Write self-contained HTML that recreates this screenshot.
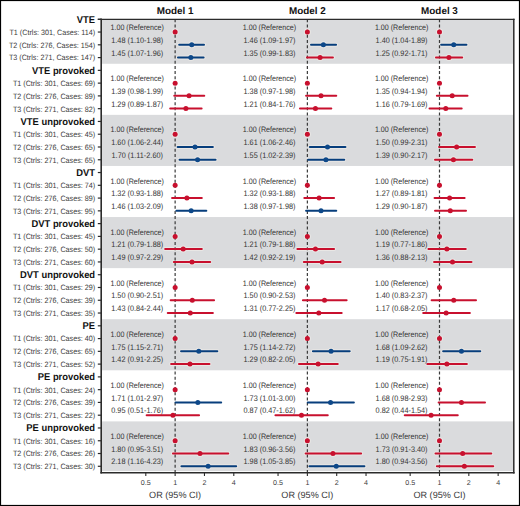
<!DOCTYPE html>
<html><head><meta charset="utf-8"><title>Forest plot</title>
<style>
html,body{margin:0;padding:0;background:#fff;}
body{width:520px;height:506px;overflow:hidden;font-family:"Liberation Sans",sans-serif;}
svg{display:block;text-rendering:geometricPrecision;}
</style></head><body>
<svg width="520" height="506" viewBox="0 0 520 506">
<rect x="101.9" y="19.27" width="411.1" height="44.5" fill="#dadbdd"/>
<rect x="101.9" y="114.86" width="411.1" height="51.09" fill="#dadbdd"/>
<rect x="101.9" y="217.04" width="411.1" height="51.09" fill="#dadbdd"/>
<rect x="101.9" y="319.21" width="411.1" height="51.09" fill="#dadbdd"/>
<rect x="101.9" y="421.39" width="411.1" height="49.71" fill="#dadbdd"/>
<g><circle cx="175.13" cy="32.04" r="3.5" fill="#e9e7e5"/><line x1="179.16" y1="44.76" x2="204.03" y2="44.76" stroke="#e9e7e5" stroke-width="4" stroke-linecap="round"/><circle cx="191.72" cy="44.76" r="3.5" fill="#e9e7e5"/><line x1="177.99" y1="57.54" x2="203.61" y2="57.54" stroke="#e9e7e5" stroke-width="4" stroke-linecap="round"/><circle cx="190.85" cy="57.54" r="3.5" fill="#e9e7e5"/><circle cx="175.13" cy="134.22" r="3.5" fill="#e9e7e5"/><line x1="177.6" y1="146.94" x2="212.87" y2="146.94" stroke="#e9e7e5" stroke-width="4" stroke-linecap="round"/><circle cx="195.02" cy="146.94" r="3.5" fill="#e9e7e5"/><line x1="179.55" y1="159.71" x2="215.56" y2="159.71" stroke="#e9e7e5" stroke-width="4" stroke-linecap="round"/><circle cx="197.58" cy="159.71" r="3.5" fill="#e9e7e5"/><circle cx="175.13" cy="236.39" r="3.5" fill="#e9e7e5"/><line x1="165.16" y1="249.12" x2="201.84" y2="249.12" stroke="#e9e7e5" stroke-width="4" stroke-linecap="round"/><circle cx="183.2" cy="249.12" r="3.5" fill="#e9e7e5"/><line x1="173.84" y1="261.89" x2="210.19" y2="261.89" stroke="#e9e7e5" stroke-width="4" stroke-linecap="round"/><circle cx="192" cy="261.89" r="3.5" fill="#e9e7e5"/><circle cx="175.13" cy="338.57" r="3.5" fill="#e9e7e5"/><line x1="181.04" y1="351.29" x2="217.32" y2="351.29" stroke="#e9e7e5" stroke-width="4" stroke-linecap="round"/><circle cx="198.81" cy="351.29" r="3.5" fill="#e9e7e5"/><line x1="171.14" y1="364.06" x2="209.44" y2="364.06" stroke="#e9e7e5" stroke-width="4" stroke-linecap="round"/><circle cx="189.97" cy="364.06" r="3.5" fill="#e9e7e5"/><circle cx="175.13" cy="440.75" r="3.5" fill="#e9e7e5"/><line x1="172.96" y1="453.47" x2="228.26" y2="453.47" stroke="#e9e7e5" stroke-width="4" stroke-linecap="round"/><circle cx="200" cy="453.47" r="3.5" fill="#e9e7e5"/><line x1="181.41" y1="466.24" x2="236.16" y2="466.24" stroke="#e9e7e5" stroke-width="4" stroke-linecap="round"/><circle cx="208.11" cy="466.24" r="3.5" fill="#e9e7e5"/><circle cx="307.37" cy="32.04" r="3.5" fill="#e9e7e5"/><line x1="311.02" y1="44.76" x2="336.06" y2="44.76" stroke="#e9e7e5" stroke-width="4" stroke-linecap="round"/><circle cx="323.38" cy="44.76" r="3.5" fill="#e9e7e5"/><line x1="306.94" y1="57.54" x2="332.94" y2="57.54" stroke="#e9e7e5" stroke-width="4" stroke-linecap="round"/><circle cx="320.07" cy="57.54" r="3.5" fill="#e9e7e5"/><circle cx="307.37" cy="134.22" r="3.5" fill="#e9e7e5"/><line x1="309.84" y1="146.94" x2="345.46" y2="146.94" stroke="#e9e7e5" stroke-width="4" stroke-linecap="round"/><circle cx="327.52" cy="146.94" r="3.5" fill="#e9e7e5"/><line x1="308.21" y1="159.71" x2="344.24" y2="159.71" stroke="#e9e7e5" stroke-width="4" stroke-linecap="round"/><circle cx="325.91" cy="159.71" r="3.5" fill="#e9e7e5"/><circle cx="307.37" cy="236.39" r="3.5" fill="#e9e7e5"/><line x1="297.4" y1="249.12" x2="334.08" y2="249.12" stroke="#e9e7e5" stroke-width="4" stroke-linecap="round"/><circle cx="315.44" cy="249.12" r="3.5" fill="#e9e7e5"/><line x1="303.84" y1="261.89" x2="340.54" y2="261.89" stroke="#e9e7e5" stroke-width="4" stroke-linecap="round"/><circle cx="322.21" cy="261.89" r="3.5" fill="#e9e7e5"/><circle cx="307.37" cy="338.57" r="3.5" fill="#e9e7e5"/><line x1="312.91" y1="351.29" x2="349.71" y2="351.29" stroke="#e9e7e5" stroke-width="4" stroke-linecap="round"/><circle cx="331.05" cy="351.29" r="3.5" fill="#e9e7e5"/><line x1="298.97" y1="364.06" x2="337.74" y2="364.06" stroke="#e9e7e5" stroke-width="4" stroke-linecap="round"/><circle cx="318.14" cy="364.06" r="3.5" fill="#e9e7e5"/><circle cx="307.37" cy="440.75" r="3.5" fill="#e9e7e5"/><line x1="305.64" y1="453.47" x2="361.1" y2="453.47" stroke="#e9e7e5" stroke-width="4" stroke-linecap="round"/><circle cx="332.94" cy="453.47" r="3.5" fill="#e9e7e5"/><line x1="309.43" y1="466.24" x2="364.41" y2="466.24" stroke="#e9e7e5" stroke-width="4" stroke-linecap="round"/><circle cx="336.27" cy="466.24" r="3.5" fill="#e9e7e5"/><circle cx="439.49" cy="32.04" r="3.5" fill="#e9e7e5"/><line x1="441.15" y1="44.76" x2="466.43" y2="44.76" stroke="#e9e7e5" stroke-width="4" stroke-linecap="round"/><circle cx="453.73" cy="44.76" r="3.5" fill="#e9e7e5"/><line x1="435.96" y1="57.54" x2="462.19" y2="57.54" stroke="#e9e7e5" stroke-width="4" stroke-linecap="round"/><circle cx="448.93" cy="57.54" r="3.5" fill="#e9e7e5"/><circle cx="439.49" cy="134.22" r="3.5" fill="#e9e7e5"/><line x1="439.06" y1="146.94" x2="474.92" y2="146.94" stroke="#e9e7e5" stroke-width="4" stroke-linecap="round"/><circle cx="456.65" cy="146.94" r="3.5" fill="#e9e7e5"/><line x1="435.03" y1="159.71" x2="472.27" y2="159.71" stroke="#e9e7e5" stroke-width="4" stroke-linecap="round"/><circle cx="453.42" cy="159.71" r="3.5" fill="#e9e7e5"/><circle cx="439.49" cy="236.39" r="3.5" fill="#e9e7e5"/><line x1="428.43" y1="249.12" x2="465.75" y2="249.12" stroke="#e9e7e5" stroke-width="4" stroke-linecap="round"/><circle cx="446.85" cy="249.12" r="3.5" fill="#e9e7e5"/><line x1="434.08" y1="261.89" x2="471.48" y2="261.89" stroke="#e9e7e5" stroke-width="4" stroke-linecap="round"/><circle cx="452.5" cy="261.89" r="3.5" fill="#e9e7e5"/><circle cx="439.49" cy="338.57" r="3.5" fill="#e9e7e5"/><line x1="443.14" y1="351.29" x2="480.25" y2="351.29" stroke="#e9e7e5" stroke-width="4" stroke-linecap="round"/><circle cx="461.44" cy="351.29" r="3.5" fill="#e9e7e5"/><line x1="427.32" y1="364.06" x2="466.87" y2="364.06" stroke="#e9e7e5" stroke-width="4" stroke-linecap="round"/><circle cx="446.85" cy="364.06" r="3.5" fill="#e9e7e5"/><circle cx="439.49" cy="440.75" r="3.5" fill="#e9e7e5"/><line x1="435.5" y1="453.47" x2="491.27" y2="453.47" stroke="#e9e7e5" stroke-width="4" stroke-linecap="round"/><circle cx="462.68" cy="453.47" r="3.5" fill="#e9e7e5"/><line x1="436.87" y1="466.24" x2="493.22" y2="466.24" stroke="#e9e7e5" stroke-width="4" stroke-linecap="round"/><circle cx="464.36" cy="466.24" r="3.5" fill="#e9e7e5"/></g>
<line x1="175.13" y1="19.27" x2="175.13" y2="472.05" stroke="#3a3a3a" stroke-width="1.2" stroke-dasharray="3 2.18"/>
<line x1="307.37" y1="19.27" x2="307.37" y2="472.05" stroke="#3a3a3a" stroke-width="1.2" stroke-dasharray="3 2.18"/>
<line x1="439.49" y1="19.27" x2="439.49" y2="472.05" stroke="#3a3a3a" stroke-width="1.2" stroke-dasharray="3 2.18"/>
<g stroke="#2b2b2b" fill="none">
<line x1="101.2" y1="18.6" x2="101.2" y2="473.6" stroke-width="1.6"/>
<line x1="100.4" y1="472.85" x2="514.6" y2="472.85" stroke-width="1.5"/>
<line x1="97.8" y1="19.37" x2="514.6" y2="19.37" stroke-width="1.3"/>
<line x1="513.8" y1="18.7" x2="513.8" y2="473.6" stroke-width="1.5"/>
<line x1="97.8" y1="19.27" x2="101" y2="19.27" stroke-width="1.2"/>
<line x1="97.8" y1="32.04" x2="101" y2="32.04" stroke-width="1.2"/>
<line x1="97.8" y1="44.81" x2="101" y2="44.81" stroke-width="1.2"/>
<line x1="97.8" y1="57.59" x2="101" y2="57.59" stroke-width="1.2"/>
<line x1="97.8" y1="70.36" x2="101" y2="70.36" stroke-width="1.2"/>
<line x1="97.8" y1="83.13" x2="101" y2="83.13" stroke-width="1.2"/>
<line x1="97.8" y1="95.9" x2="101" y2="95.9" stroke-width="1.2"/>
<line x1="97.8" y1="108.67" x2="101" y2="108.67" stroke-width="1.2"/>
<line x1="97.8" y1="121.45" x2="101" y2="121.45" stroke-width="1.2"/>
<line x1="97.8" y1="134.22" x2="101" y2="134.22" stroke-width="1.2"/>
<line x1="97.8" y1="146.99" x2="101" y2="146.99" stroke-width="1.2"/>
<line x1="97.8" y1="159.76" x2="101" y2="159.76" stroke-width="1.2"/>
<line x1="97.8" y1="172.53" x2="101" y2="172.53" stroke-width="1.2"/>
<line x1="97.8" y1="185.31" x2="101" y2="185.31" stroke-width="1.2"/>
<line x1="97.8" y1="198.08" x2="101" y2="198.08" stroke-width="1.2"/>
<line x1="97.8" y1="210.85" x2="101" y2="210.85" stroke-width="1.2"/>
<line x1="97.8" y1="223.62" x2="101" y2="223.62" stroke-width="1.2"/>
<line x1="97.8" y1="236.39" x2="101" y2="236.39" stroke-width="1.2"/>
<line x1="97.8" y1="249.17" x2="101" y2="249.17" stroke-width="1.2"/>
<line x1="97.8" y1="261.94" x2="101" y2="261.94" stroke-width="1.2"/>
<line x1="97.8" y1="274.71" x2="101" y2="274.71" stroke-width="1.2"/>
<line x1="97.8" y1="287.48" x2="101" y2="287.48" stroke-width="1.2"/>
<line x1="97.8" y1="300.25" x2="101" y2="300.25" stroke-width="1.2"/>
<line x1="97.8" y1="313.03" x2="101" y2="313.03" stroke-width="1.2"/>
<line x1="97.8" y1="325.8" x2="101" y2="325.8" stroke-width="1.2"/>
<line x1="97.8" y1="338.57" x2="101" y2="338.57" stroke-width="1.2"/>
<line x1="97.8" y1="351.34" x2="101" y2="351.34" stroke-width="1.2"/>
<line x1="97.8" y1="364.11" x2="101" y2="364.11" stroke-width="1.2"/>
<line x1="97.8" y1="376.89" x2="101" y2="376.89" stroke-width="1.2"/>
<line x1="97.8" y1="389.66" x2="101" y2="389.66" stroke-width="1.2"/>
<line x1="97.8" y1="402.43" x2="101" y2="402.43" stroke-width="1.2"/>
<line x1="97.8" y1="415.2" x2="101" y2="415.2" stroke-width="1.2"/>
<line x1="97.8" y1="427.97" x2="101" y2="427.97" stroke-width="1.2"/>
<line x1="97.8" y1="440.75" x2="101" y2="440.75" stroke-width="1.2"/>
<line x1="97.8" y1="453.52" x2="101" y2="453.52" stroke-width="1.2"/>
<line x1="97.8" y1="466.29" x2="101" y2="466.29" stroke-width="1.2"/>
<line x1="145.8" y1="472.8" x2="145.8" y2="476" stroke-width="1.1"/>
<line x1="175.13" y1="472.8" x2="175.13" y2="476" stroke-width="1.1"/>
<line x1="204.46" y1="472.8" x2="204.46" y2="476" stroke-width="1.1"/>
<line x1="233.79" y1="472.8" x2="233.79" y2="476" stroke-width="1.1"/>
<line x1="278.04" y1="472.8" x2="278.04" y2="476" stroke-width="1.1"/>
<line x1="307.37" y1="472.8" x2="307.37" y2="476" stroke-width="1.1"/>
<line x1="336.7" y1="472.8" x2="336.7" y2="476" stroke-width="1.1"/>
<line x1="366.03" y1="472.8" x2="366.03" y2="476" stroke-width="1.1"/>
<line x1="410.16" y1="472.8" x2="410.16" y2="476" stroke-width="1.1"/>
<line x1="439.49" y1="472.8" x2="439.49" y2="476" stroke-width="1.1"/>
<line x1="468.82" y1="472.8" x2="468.82" y2="476" stroke-width="1.1"/>
<line x1="498.15" y1="472.8" x2="498.15" y2="476" stroke-width="1.1"/>
</g>
<g font-family="Liberation Sans, sans-serif" text-anchor="end">
<text transform="translate(95.1,22.72) scale(1,1.05)" font-size="9.4" font-weight="bold" fill="#111">VTE</text>
<text transform="translate(95.2,34.94) scale(1,1.08)" font-size="7.2" fill="#3a3a3a">T1 (Ctrls: 301, Cases: 114)</text>
<text transform="translate(95.2,47.71) scale(1,1.08)" font-size="7.2" fill="#3a3a3a">T2 (Ctrls: 276, Cases: 154)</text>
<text transform="translate(95.2,60.49) scale(1,1.08)" font-size="7.2" fill="#3a3a3a">T3 (Ctrls: 271, Cases: 147)</text>
<text transform="translate(95.1,73.81) scale(1,1.05)" font-size="9.4" font-weight="bold" fill="#111">VTE provoked</text>
<text transform="translate(95.2,86.03) scale(1,1.08)" font-size="7.2" fill="#3a3a3a">T1 (Ctrls: 301, Cases: 69)</text>
<text transform="translate(95.2,98.8) scale(1,1.08)" font-size="7.2" fill="#3a3a3a">T2 (Ctrls: 276, Cases: 89)</text>
<text transform="translate(95.2,111.57) scale(1,1.08)" font-size="7.2" fill="#3a3a3a">T3 (Ctrls: 271, Cases: 82)</text>
<text transform="translate(95.1,124.9) scale(1,1.05)" font-size="9.4" font-weight="bold" fill="#111">VTE unprovoked</text>
<text transform="translate(95.2,137.12) scale(1,1.08)" font-size="7.2" fill="#3a3a3a">T1 (Ctrls: 301, Cases: 45)</text>
<text transform="translate(95.2,149.89) scale(1,1.08)" font-size="7.2" fill="#3a3a3a">T2 (Ctrls: 276, Cases: 65)</text>
<text transform="translate(95.2,162.66) scale(1,1.08)" font-size="7.2" fill="#3a3a3a">T3 (Ctrls: 271, Cases: 65)</text>
<text transform="translate(95.1,175.98) scale(1,1.05)" font-size="9.4" font-weight="bold" fill="#111">DVT</text>
<text transform="translate(95.2,188.21) scale(1,1.08)" font-size="7.2" fill="#3a3a3a">T1 (Ctrls: 301, Cases: 74)</text>
<text transform="translate(95.2,200.98) scale(1,1.08)" font-size="7.2" fill="#3a3a3a">T2 (Ctrls: 276, Cases: 89)</text>
<text transform="translate(95.2,213.75) scale(1,1.08)" font-size="7.2" fill="#3a3a3a">T3 (Ctrls: 271, Cases: 95)</text>
<text transform="translate(95.1,227.07) scale(1,1.05)" font-size="9.4" font-weight="bold" fill="#111">DVT provoked</text>
<text transform="translate(95.2,239.29) scale(1,1.08)" font-size="7.2" fill="#3a3a3a">T1 (Ctrls: 301, Cases: 45)</text>
<text transform="translate(95.2,252.07) scale(1,1.08)" font-size="7.2" fill="#3a3a3a">T2 (Ctrls: 276, Cases: 50)</text>
<text transform="translate(95.2,264.84) scale(1,1.08)" font-size="7.2" fill="#3a3a3a">T3 (Ctrls: 271, Cases: 60)</text>
<text transform="translate(95.1,278.16) scale(1,1.05)" font-size="9.4" font-weight="bold" fill="#111">DVT unprovoked</text>
<text transform="translate(95.2,290.38) scale(1,1.08)" font-size="7.2" fill="#3a3a3a">T1 (Ctrls: 301, Cases: 29)</text>
<text transform="translate(95.2,303.15) scale(1,1.08)" font-size="7.2" fill="#3a3a3a">T2 (Ctrls: 276, Cases: 39)</text>
<text transform="translate(95.2,315.93) scale(1,1.08)" font-size="7.2" fill="#3a3a3a">T3 (Ctrls: 271, Cases: 35)</text>
<text transform="translate(95.1,329.25) scale(1,1.05)" font-size="9.4" font-weight="bold" fill="#111">PE</text>
<text transform="translate(95.2,341.47) scale(1,1.08)" font-size="7.2" fill="#3a3a3a">T1 (Ctrls: 301, Cases: 40)</text>
<text transform="translate(95.2,354.24) scale(1,1.08)" font-size="7.2" fill="#3a3a3a">T2 (Ctrls: 276, Cases: 65)</text>
<text transform="translate(95.2,367.01) scale(1,1.08)" font-size="7.2" fill="#3a3a3a">T3 (Ctrls: 271, Cases: 52)</text>
<text transform="translate(95.1,380.34) scale(1,1.05)" font-size="9.4" font-weight="bold" fill="#111">PE provoked</text>
<text transform="translate(95.2,392.56) scale(1,1.08)" font-size="7.2" fill="#3a3a3a">T1 (Ctrls: 301, Cases: 24)</text>
<text transform="translate(95.2,405.33) scale(1,1.08)" font-size="7.2" fill="#3a3a3a">T2 (Ctrls: 276, Cases: 39)</text>
<text transform="translate(95.2,418.1) scale(1,1.08)" font-size="7.2" fill="#3a3a3a">T3 (Ctrls: 271, Cases: 22)</text>
<text transform="translate(95.1,431.42) scale(1,1.05)" font-size="9.4" font-weight="bold" fill="#111">PE unprovoked</text>
<text transform="translate(95.2,443.65) scale(1,1.08)" font-size="7.2" fill="#3a3a3a">T1 (Ctrls: 301, Cases: 16)</text>
<text transform="translate(95.2,456.42) scale(1,1.08)" font-size="7.2" fill="#3a3a3a">T2 (Ctrls: 276, Cases: 26)</text>
<text transform="translate(95.2,469.19) scale(1,1.08)" font-size="7.2" fill="#3a3a3a">T3 (Ctrls: 271, Cases: 30)</text>
</g>
<g font-family="Liberation Sans, sans-serif" text-anchor="middle" font-weight="bold" font-size="9.9" fill="#111">
<text x="175.13" y="13.65">Model 1</text>
<text x="307.37" y="13.65">Model 2</text>
<text x="439.49" y="13.65">Model 3</text>
</g>
<g font-family="Liberation Sans, sans-serif" text-anchor="middle" fill="#3a3a3a">
<text x="145.8" y="485.4" font-size="7.1">0.5</text>
<text x="175.13" y="485.4" font-size="7.1">1</text>
<text x="204.46" y="485.4" font-size="7.1">2</text>
<text x="233.79" y="485.4" font-size="7.1">4</text>
<text x="175.13" y="497.9" font-size="9.1">OR (95% CI)</text>
<text x="278.04" y="485.4" font-size="7.1">0.5</text>
<text x="307.37" y="485.4" font-size="7.1">1</text>
<text x="336.7" y="485.4" font-size="7.1">2</text>
<text x="366.03" y="485.4" font-size="7.1">4</text>
<text x="307.37" y="497.9" font-size="9.1">OR (95% CI)</text>
<text x="410.16" y="485.4" font-size="7.1">0.5</text>
<text x="439.49" y="485.4" font-size="7.1">1</text>
<text x="468.82" y="485.4" font-size="7.1">2</text>
<text x="498.15" y="485.4" font-size="7.1">4</text>
<text x="439.49" y="497.9" font-size="9.1">OR (95% CI)</text>
</g>
<g font-family="Liberation Sans, sans-serif" text-anchor="middle" font-size="7.1" fill="#333">
<text transform="translate(137.23,30.24) scale(1,1.1)" font-size="7.12">1.00 (Reference)</text>
<text transform="translate(137.23,43.01) scale(1,1.1)" font-size="7.3">1.48 (1.10-1.98)</text>
<text transform="translate(137.23,55.79) scale(1,1.1)" font-size="7.3">1.45 (1.07-1.96)</text>
<text transform="translate(137.23,81.33) scale(1,1.1)" font-size="7.12">1.00 (Reference)</text>
<text transform="translate(137.23,94.1) scale(1,1.1)" font-size="7.3">1.39 (0.98-1.99)</text>
<text transform="translate(137.23,106.87) scale(1,1.1)" font-size="7.3">1.29 (0.89-1.87)</text>
<text transform="translate(137.23,132.42) scale(1,1.1)" font-size="7.12">1.00 (Reference)</text>
<text transform="translate(137.23,145.19) scale(1,1.1)" font-size="7.3">1.60 (1.06-2.44)</text>
<text transform="translate(137.23,157.96) scale(1,1.1)" font-size="7.3">1.70 (1.11-2.60)</text>
<text transform="translate(137.23,183.51) scale(1,1.1)" font-size="7.12">1.00 (Reference)</text>
<text transform="translate(137.23,196.28) scale(1,1.1)" font-size="7.3">1.32 (0.93-1.88)</text>
<text transform="translate(137.23,209.05) scale(1,1.1)" font-size="7.3">1.46 (1.03-2.09)</text>
<text transform="translate(137.23,234.59) scale(1,1.1)" font-size="7.12">1.00 (Reference)</text>
<text transform="translate(137.23,247.37) scale(1,1.1)" font-size="7.3">1.21 (0.79-1.88)</text>
<text transform="translate(137.23,260.14) scale(1,1.1)" font-size="7.3">1.49 (0.97-2.29)</text>
<text transform="translate(137.23,285.68) scale(1,1.1)" font-size="7.12">1.00 (Reference)</text>
<text transform="translate(137.23,298.45) scale(1,1.1)" font-size="7.3">1.50 (0.90-2.51)</text>
<text transform="translate(137.23,311.23) scale(1,1.1)" font-size="7.3">1.43 (0.84-2.44)</text>
<text transform="translate(137.23,336.77) scale(1,1.1)" font-size="7.12">1.00 (Reference)</text>
<text transform="translate(137.23,349.54) scale(1,1.1)" font-size="7.3">1.75 (1.15-2.71)</text>
<text transform="translate(137.23,362.31) scale(1,1.1)" font-size="7.3">1.42 (0.91-2.25)</text>
<text transform="translate(137.23,387.86) scale(1,1.1)" font-size="7.12">1.00 (Reference)</text>
<text transform="translate(137.23,400.63) scale(1,1.1)" font-size="7.3">1.71 (1.01-2.97)</text>
<text transform="translate(137.23,413.4) scale(1,1.1)" font-size="7.3">0.95 (0.51-1.76)</text>
<text transform="translate(137.23,438.95) scale(1,1.1)" font-size="7.12">1.00 (Reference)</text>
<text transform="translate(137.23,451.72) scale(1,1.1)" font-size="7.3">1.80 (0.95-3.51)</text>
<text transform="translate(137.23,464.49) scale(1,1.1)" font-size="7.3">2.18 (1.16-4.23)</text>
<text transform="translate(269.47,30.24) scale(1,1.1)" font-size="7.12">1.00 (Reference)</text>
<text transform="translate(269.47,43.01) scale(1,1.1)" font-size="7.3">1.46 (1.09-1.97)</text>
<text transform="translate(269.47,55.79) scale(1,1.1)" font-size="7.3">1.35 (0.99-1.83)</text>
<text transform="translate(269.47,81.33) scale(1,1.1)" font-size="7.12">1.00 (Reference)</text>
<text transform="translate(269.47,94.1) scale(1,1.1)" font-size="7.3">1.38 (0.97-1.98)</text>
<text transform="translate(269.47,106.87) scale(1,1.1)" font-size="7.3">1.21 (0.84-1.76)</text>
<text transform="translate(269.47,132.42) scale(1,1.1)" font-size="7.12">1.00 (Reference)</text>
<text transform="translate(269.47,145.19) scale(1,1.1)" font-size="7.3">1.61 (1.06-2.46)</text>
<text transform="translate(269.47,157.96) scale(1,1.1)" font-size="7.3">1.55 (1.02-2.39)</text>
<text transform="translate(269.47,183.51) scale(1,1.1)" font-size="7.12">1.00 (Reference)</text>
<text transform="translate(269.47,196.28) scale(1,1.1)" font-size="7.3">1.32 (0.93-1.88)</text>
<text transform="translate(269.47,209.05) scale(1,1.1)" font-size="7.3">1.38 (0.97-1.98)</text>
<text transform="translate(269.47,234.59) scale(1,1.1)" font-size="7.12">1.00 (Reference)</text>
<text transform="translate(269.47,247.37) scale(1,1.1)" font-size="7.3">1.21 (0.79-1.88)</text>
<text transform="translate(269.47,260.14) scale(1,1.1)" font-size="7.3">1.42 (0.92-2.19)</text>
<text transform="translate(269.47,285.68) scale(1,1.1)" font-size="7.12">1.00 (Reference)</text>
<text transform="translate(269.47,298.45) scale(1,1.1)" font-size="7.3">1.50 (0.90-2.53)</text>
<text transform="translate(269.47,311.23) scale(1,1.1)" font-size="7.3">1.31 (0.77-2.25)</text>
<text transform="translate(269.47,336.77) scale(1,1.1)" font-size="7.12">1.00 (Reference)</text>
<text transform="translate(269.47,349.54) scale(1,1.1)" font-size="7.3">1.75 (1.14-2.72)</text>
<text transform="translate(269.47,362.31) scale(1,1.1)" font-size="7.3">1.29 (0.82-2.05)</text>
<text transform="translate(269.47,387.86) scale(1,1.1)" font-size="7.12">1.00 (Reference)</text>
<text transform="translate(269.47,400.63) scale(1,1.1)" font-size="7.3">1.73 (1.01-3.00)</text>
<text transform="translate(269.47,413.4) scale(1,1.1)" font-size="7.3">0.87 (0.47-1.62)</text>
<text transform="translate(269.47,438.95) scale(1,1.1)" font-size="7.12">1.00 (Reference)</text>
<text transform="translate(269.47,451.72) scale(1,1.1)" font-size="7.3">1.83 (0.96-3.56)</text>
<text transform="translate(269.47,464.49) scale(1,1.1)" font-size="7.3">1.98 (1.05-3.85)</text>
<text transform="translate(401.59,30.24) scale(1,1.1)" font-size="7.12">1.00 (Reference)</text>
<text transform="translate(401.59,43.01) scale(1,1.1)" font-size="7.3">1.40 (1.04-1.89)</text>
<text transform="translate(401.59,55.79) scale(1,1.1)" font-size="7.3">1.25 (0.92-1.71)</text>
<text transform="translate(401.59,81.33) scale(1,1.1)" font-size="7.12">1.00 (Reference)</text>
<text transform="translate(401.59,94.1) scale(1,1.1)" font-size="7.3">1.35 (0.94-1.94)</text>
<text transform="translate(401.59,106.87) scale(1,1.1)" font-size="7.3">1.16 (0.79-1.69)</text>
<text transform="translate(401.59,132.42) scale(1,1.1)" font-size="7.12">1.00 (Reference)</text>
<text transform="translate(401.59,145.19) scale(1,1.1)" font-size="7.3">1.50 (0.99-2.31)</text>
<text transform="translate(401.59,157.96) scale(1,1.1)" font-size="7.3">1.39 (0.90-2.17)</text>
<text transform="translate(401.59,183.51) scale(1,1.1)" font-size="7.12">1.00 (Reference)</text>
<text transform="translate(401.59,196.28) scale(1,1.1)" font-size="7.3">1.27 (0.89-1.81)</text>
<text transform="translate(401.59,209.05) scale(1,1.1)" font-size="7.3">1.29 (0.90-1.87)</text>
<text transform="translate(401.59,234.59) scale(1,1.1)" font-size="7.12">1.00 (Reference)</text>
<text transform="translate(401.59,247.37) scale(1,1.1)" font-size="7.3">1.19 (0.77-1.86)</text>
<text transform="translate(401.59,260.14) scale(1,1.1)" font-size="7.3">1.36 (0.88-2.13)</text>
<text transform="translate(401.59,285.68) scale(1,1.1)" font-size="7.12">1.00 (Reference)</text>
<text transform="translate(401.59,298.45) scale(1,1.1)" font-size="7.3">1.40 (0.83-2.37)</text>
<text transform="translate(401.59,311.23) scale(1,1.1)" font-size="7.3">1.17 (0.68-2.05)</text>
<text transform="translate(401.59,336.77) scale(1,1.1)" font-size="7.12">1.00 (Reference)</text>
<text transform="translate(401.59,349.54) scale(1,1.1)" font-size="7.3">1.68 (1.09-2.62)</text>
<text transform="translate(401.59,362.31) scale(1,1.1)" font-size="7.3">1.19 (0.75-1.91)</text>
<text transform="translate(401.59,387.86) scale(1,1.1)" font-size="7.12">1.00 (Reference)</text>
<text transform="translate(401.59,400.63) scale(1,1.1)" font-size="7.3">1.68 (0.98-2.93)</text>
<text transform="translate(401.59,413.4) scale(1,1.1)" font-size="7.3">0.82 (0.44-1.54)</text>
<text transform="translate(401.59,438.95) scale(1,1.1)" font-size="7.12">1.00 (Reference)</text>
<text transform="translate(401.59,451.72) scale(1,1.1)" font-size="7.3">1.73 (0.91-3.40)</text>
<text transform="translate(401.59,464.49) scale(1,1.1)" font-size="7.3">1.80 (0.94-3.56)</text>
</g>
<g>
<circle cx="175.13" cy="32.04" r="2.5" fill="#c8102e"/>
<line x1="179.16" y1="44.76" x2="204.03" y2="44.76" stroke="#073e7c" stroke-width="2" stroke-linecap="round"/>
<circle cx="191.72" cy="44.76" r="2.5" fill="#0d4889"/>
<line x1="177.99" y1="57.54" x2="203.61" y2="57.54" stroke="#073e7c" stroke-width="2" stroke-linecap="round"/>
<circle cx="190.85" cy="57.54" r="2.5" fill="#0d4889"/>
<circle cx="175.13" cy="83.13" r="2.5" fill="#c8102e"/>
<line x1="174.28" y1="95.85" x2="204.25" y2="95.85" stroke="#c8102e" stroke-width="2" stroke-linecap="round"/>
<circle cx="189.06" cy="95.85" r="2.5" fill="#c8102e"/>
<line x1="170.2" y1="108.62" x2="201.62" y2="108.62" stroke="#c8102e" stroke-width="2" stroke-linecap="round"/>
<circle cx="185.9" cy="108.62" r="2.5" fill="#c8102e"/>
<circle cx="175.13" cy="134.22" r="2.5" fill="#c8102e"/>
<line x1="177.6" y1="146.94" x2="212.87" y2="146.94" stroke="#073e7c" stroke-width="2" stroke-linecap="round"/>
<circle cx="195.02" cy="146.94" r="2.5" fill="#0d4889"/>
<line x1="179.55" y1="159.71" x2="215.56" y2="159.71" stroke="#073e7c" stroke-width="2" stroke-linecap="round"/>
<circle cx="197.58" cy="159.71" r="2.5" fill="#0d4889"/>
<circle cx="175.13" cy="185.31" r="2.5" fill="#c8102e"/>
<line x1="172.06" y1="198.03" x2="201.84" y2="198.03" stroke="#c8102e" stroke-width="2" stroke-linecap="round"/>
<circle cx="186.88" cy="198.03" r="2.5" fill="#c8102e"/>
<line x1="176.38" y1="210.8" x2="206.32" y2="210.8" stroke="#073e7c" stroke-width="2" stroke-linecap="round"/>
<circle cx="191.14" cy="210.8" r="2.5" fill="#0d4889"/>
<circle cx="175.13" cy="236.39" r="2.5" fill="#c8102e"/>
<line x1="165.16" y1="249.12" x2="201.84" y2="249.12" stroke="#c8102e" stroke-width="2" stroke-linecap="round"/>
<circle cx="183.2" cy="249.12" r="2.5" fill="#c8102e"/>
<line x1="173.84" y1="261.89" x2="210.19" y2="261.89" stroke="#c8102e" stroke-width="2" stroke-linecap="round"/>
<circle cx="192" cy="261.89" r="2.5" fill="#c8102e"/>
<circle cx="175.13" cy="287.48" r="2.5" fill="#c8102e"/>
<line x1="170.67" y1="300.2" x2="214.07" y2="300.2" stroke="#c8102e" stroke-width="2" stroke-linecap="round"/>
<circle cx="192.29" cy="300.2" r="2.5" fill="#c8102e"/>
<line x1="167.75" y1="312.98" x2="212.87" y2="312.98" stroke="#c8102e" stroke-width="2" stroke-linecap="round"/>
<circle cx="190.26" cy="312.98" r="2.5" fill="#c8102e"/>
<circle cx="175.13" cy="338.57" r="2.5" fill="#c8102e"/>
<line x1="181.04" y1="351.29" x2="217.32" y2="351.29" stroke="#073e7c" stroke-width="2" stroke-linecap="round"/>
<circle cx="198.81" cy="351.29" r="2.5" fill="#0d4889"/>
<line x1="171.14" y1="364.06" x2="209.44" y2="364.06" stroke="#c8102e" stroke-width="2" stroke-linecap="round"/>
<circle cx="189.97" cy="364.06" r="2.5" fill="#c8102e"/>
<circle cx="175.13" cy="389.66" r="2.5" fill="#c8102e"/>
<line x1="175.55" y1="402.38" x2="221.19" y2="402.38" stroke="#073e7c" stroke-width="2" stroke-linecap="round"/>
<circle cx="197.83" cy="402.38" r="2.5" fill="#0d4889"/>
<line x1="146.64" y1="415.15" x2="199.05" y2="415.15" stroke="#c8102e" stroke-width="2" stroke-linecap="round"/>
<circle cx="172.96" cy="415.15" r="2.5" fill="#c8102e"/>
<circle cx="175.13" cy="440.75" r="2.5" fill="#c8102e"/>
<line x1="172.96" y1="453.47" x2="228.26" y2="453.47" stroke="#c8102e" stroke-width="2" stroke-linecap="round"/>
<circle cx="200" cy="453.47" r="2.5" fill="#c8102e"/>
<line x1="181.41" y1="466.24" x2="236.16" y2="466.24" stroke="#073e7c" stroke-width="2" stroke-linecap="round"/>
<circle cx="208.11" cy="466.24" r="2.5" fill="#0d4889"/>
<circle cx="307.37" cy="32.04" r="2.5" fill="#c8102e"/>
<line x1="311.02" y1="44.76" x2="336.06" y2="44.76" stroke="#073e7c" stroke-width="2" stroke-linecap="round"/>
<circle cx="323.38" cy="44.76" r="2.5" fill="#0d4889"/>
<line x1="306.94" y1="57.54" x2="332.94" y2="57.54" stroke="#c8102e" stroke-width="2" stroke-linecap="round"/>
<circle cx="320.07" cy="57.54" r="2.5" fill="#c8102e"/>
<circle cx="307.37" cy="83.13" r="2.5" fill="#c8102e"/>
<line x1="306.08" y1="95.85" x2="336.27" y2="95.85" stroke="#c8102e" stroke-width="2" stroke-linecap="round"/>
<circle cx="321" cy="95.85" r="2.5" fill="#c8102e"/>
<line x1="299.99" y1="108.62" x2="331.29" y2="108.62" stroke="#c8102e" stroke-width="2" stroke-linecap="round"/>
<circle cx="315.44" cy="108.62" r="2.5" fill="#c8102e"/>
<circle cx="307.37" cy="134.22" r="2.5" fill="#c8102e"/>
<line x1="309.84" y1="146.94" x2="345.46" y2="146.94" stroke="#073e7c" stroke-width="2" stroke-linecap="round"/>
<circle cx="327.52" cy="146.94" r="2.5" fill="#0d4889"/>
<line x1="308.21" y1="159.71" x2="344.24" y2="159.71" stroke="#073e7c" stroke-width="2" stroke-linecap="round"/>
<circle cx="325.91" cy="159.71" r="2.5" fill="#0d4889"/>
<circle cx="307.37" cy="185.31" r="2.5" fill="#c8102e"/>
<line x1="304.3" y1="198.03" x2="334.08" y2="198.03" stroke="#c8102e" stroke-width="2" stroke-linecap="round"/>
<circle cx="319.12" cy="198.03" r="2.5" fill="#c8102e"/>
<line x1="306.08" y1="210.8" x2="336.27" y2="210.8" stroke="#073e7c" stroke-width="2" stroke-linecap="round"/>
<circle cx="321" cy="210.8" r="2.5" fill="#0d4889"/>
<circle cx="307.37" cy="236.39" r="2.5" fill="#c8102e"/>
<line x1="297.4" y1="249.12" x2="334.08" y2="249.12" stroke="#c8102e" stroke-width="2" stroke-linecap="round"/>
<circle cx="315.44" cy="249.12" r="2.5" fill="#c8102e"/>
<line x1="303.84" y1="261.89" x2="340.54" y2="261.89" stroke="#c8102e" stroke-width="2" stroke-linecap="round"/>
<circle cx="322.21" cy="261.89" r="2.5" fill="#c8102e"/>
<circle cx="307.37" cy="287.48" r="2.5" fill="#c8102e"/>
<line x1="302.91" y1="300.2" x2="346.65" y2="300.2" stroke="#c8102e" stroke-width="2" stroke-linecap="round"/>
<circle cx="324.53" cy="300.2" r="2.5" fill="#c8102e"/>
<line x1="296.31" y1="312.98" x2="341.68" y2="312.98" stroke="#c8102e" stroke-width="2" stroke-linecap="round"/>
<circle cx="318.8" cy="312.98" r="2.5" fill="#c8102e"/>
<circle cx="307.37" cy="338.57" r="2.5" fill="#c8102e"/>
<line x1="312.91" y1="351.29" x2="349.71" y2="351.29" stroke="#073e7c" stroke-width="2" stroke-linecap="round"/>
<circle cx="331.05" cy="351.29" r="2.5" fill="#0d4889"/>
<line x1="298.97" y1="364.06" x2="337.74" y2="364.06" stroke="#c8102e" stroke-width="2" stroke-linecap="round"/>
<circle cx="318.14" cy="364.06" r="2.5" fill="#c8102e"/>
<circle cx="307.37" cy="389.66" r="2.5" fill="#c8102e"/>
<line x1="307.79" y1="402.38" x2="353.86" y2="402.38" stroke="#073e7c" stroke-width="2" stroke-linecap="round"/>
<circle cx="330.56" cy="402.38" r="2.5" fill="#0d4889"/>
<line x1="275.42" y1="415.15" x2="327.78" y2="415.15" stroke="#c8102e" stroke-width="2" stroke-linecap="round"/>
<circle cx="301.48" cy="415.15" r="2.5" fill="#c8102e"/>
<circle cx="307.37" cy="440.75" r="2.5" fill="#c8102e"/>
<line x1="305.64" y1="453.47" x2="361.1" y2="453.47" stroke="#c8102e" stroke-width="2" stroke-linecap="round"/>
<circle cx="332.94" cy="453.47" r="2.5" fill="#c8102e"/>
<line x1="309.43" y1="466.24" x2="364.41" y2="466.24" stroke="#073e7c" stroke-width="2" stroke-linecap="round"/>
<circle cx="336.27" cy="466.24" r="2.5" fill="#0d4889"/>
<circle cx="439.49" cy="32.04" r="2.5" fill="#c8102e"/>
<line x1="441.15" y1="44.76" x2="466.43" y2="44.76" stroke="#073e7c" stroke-width="2" stroke-linecap="round"/>
<circle cx="453.73" cy="44.76" r="2.5" fill="#0d4889"/>
<line x1="435.96" y1="57.54" x2="462.19" y2="57.54" stroke="#c8102e" stroke-width="2" stroke-linecap="round"/>
<circle cx="448.93" cy="57.54" r="2.5" fill="#c8102e"/>
<circle cx="439.49" cy="83.13" r="2.5" fill="#c8102e"/>
<line x1="436.87" y1="95.85" x2="467.53" y2="95.85" stroke="#c8102e" stroke-width="2" stroke-linecap="round"/>
<circle cx="452.19" cy="95.85" r="2.5" fill="#c8102e"/>
<line x1="429.52" y1="108.62" x2="461.69" y2="108.62" stroke="#c8102e" stroke-width="2" stroke-linecap="round"/>
<circle cx="445.77" cy="108.62" r="2.5" fill="#c8102e"/>
<circle cx="439.49" cy="134.22" r="2.5" fill="#c8102e"/>
<line x1="439.06" y1="146.94" x2="474.92" y2="146.94" stroke="#c8102e" stroke-width="2" stroke-linecap="round"/>
<circle cx="456.65" cy="146.94" r="2.5" fill="#c8102e"/>
<line x1="435.03" y1="159.71" x2="472.27" y2="159.71" stroke="#c8102e" stroke-width="2" stroke-linecap="round"/>
<circle cx="453.42" cy="159.71" r="2.5" fill="#c8102e"/>
<circle cx="439.49" cy="185.31" r="2.5" fill="#c8102e"/>
<line x1="434.56" y1="198.03" x2="464.6" y2="198.03" stroke="#c8102e" stroke-width="2" stroke-linecap="round"/>
<circle cx="449.6" cy="198.03" r="2.5" fill="#c8102e"/>
<line x1="435.03" y1="210.8" x2="465.98" y2="210.8" stroke="#c8102e" stroke-width="2" stroke-linecap="round"/>
<circle cx="450.26" cy="210.8" r="2.5" fill="#c8102e"/>
<circle cx="439.49" cy="236.39" r="2.5" fill="#c8102e"/>
<line x1="428.43" y1="249.12" x2="465.75" y2="249.12" stroke="#c8102e" stroke-width="2" stroke-linecap="round"/>
<circle cx="446.85" cy="249.12" r="2.5" fill="#c8102e"/>
<line x1="434.08" y1="261.89" x2="471.48" y2="261.89" stroke="#c8102e" stroke-width="2" stroke-linecap="round"/>
<circle cx="452.5" cy="261.89" r="2.5" fill="#c8102e"/>
<circle cx="439.49" cy="287.48" r="2.5" fill="#c8102e"/>
<line x1="431.61" y1="300.2" x2="476" y2="300.2" stroke="#c8102e" stroke-width="2" stroke-linecap="round"/>
<circle cx="453.73" cy="300.2" r="2.5" fill="#c8102e"/>
<line x1="423.17" y1="312.98" x2="469.86" y2="312.98" stroke="#c8102e" stroke-width="2" stroke-linecap="round"/>
<circle cx="446.13" cy="312.98" r="2.5" fill="#c8102e"/>
<circle cx="439.49" cy="338.57" r="2.5" fill="#c8102e"/>
<line x1="443.14" y1="351.29" x2="480.25" y2="351.29" stroke="#073e7c" stroke-width="2" stroke-linecap="round"/>
<circle cx="461.44" cy="351.29" r="2.5" fill="#0d4889"/>
<line x1="427.32" y1="364.06" x2="466.87" y2="364.06" stroke="#c8102e" stroke-width="2" stroke-linecap="round"/>
<circle cx="446.85" cy="364.06" r="2.5" fill="#c8102e"/>
<circle cx="439.49" cy="389.66" r="2.5" fill="#c8102e"/>
<line x1="438.64" y1="402.38" x2="484.98" y2="402.38" stroke="#c8102e" stroke-width="2" stroke-linecap="round"/>
<circle cx="461.44" cy="402.38" r="2.5" fill="#c8102e"/>
<line x1="404.75" y1="415.15" x2="457.76" y2="415.15" stroke="#c8102e" stroke-width="2" stroke-linecap="round"/>
<circle cx="431.09" cy="415.15" r="2.5" fill="#c8102e"/>
<circle cx="439.49" cy="440.75" r="2.5" fill="#c8102e"/>
<line x1="435.5" y1="453.47" x2="491.27" y2="453.47" stroke="#c8102e" stroke-width="2" stroke-linecap="round"/>
<circle cx="462.68" cy="453.47" r="2.5" fill="#c8102e"/>
<line x1="436.87" y1="466.24" x2="493.22" y2="466.24" stroke="#c8102e" stroke-width="2" stroke-linecap="round"/>
<circle cx="464.36" cy="466.24" r="2.5" fill="#c8102e"/>
</g>
<rect x="0.5" y="0.5" width="519" height="505" fill="none" stroke="#000" stroke-width="1.2"/>
</svg>
</body></html>
